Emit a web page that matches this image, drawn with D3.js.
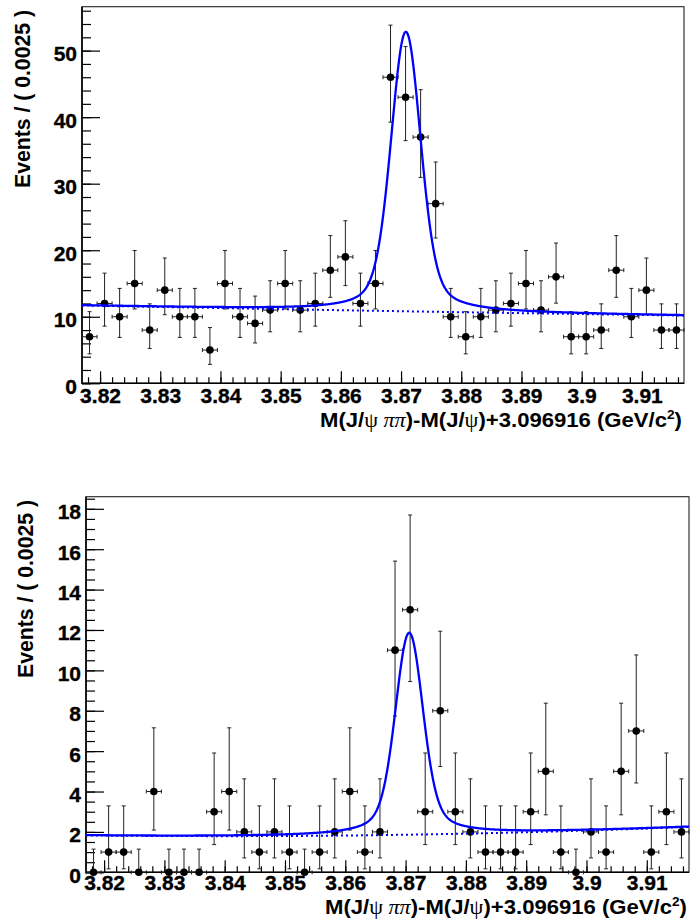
<!DOCTYPE html>
<html>
<head>
<meta charset="utf-8">
<script src="https://cdn.jsdelivr.net/npm/d3@7"></script>
<style>
  html, body { margin: 0; padding: 0; background: #fff; }
  svg { display: block; }
  text { font-family: "Liberation Sans", Arial, Helvetica, sans-serif; font-weight: bold; fill: #000; }
</style>
</head>
<body>
<svg id="chart" width="690" height="920"></svg>
<script>
// ---------------- data ----------------
const xRange = [3.817, 3.917];          // histogram range, GeV/c^2
const binWidth = 0.0025;                // bin width
const xTickLabels = [3.82, 3.83, 3.84, 3.85, 3.86, 3.87, 3.88, 3.89, 3.9, 3.91];

const countsTop = [7, 12, 10, 15, 8, 14, 10, 10, 5, 15, 10, 9, 11, 15, 11, 12, 17, 19, 12, 15,
                   46, 43, 37, 27, 10, 7, 10, 11, 12, 15, 11, 16, 7, 7, 8, 17, 10, 14, 8, 8];
const countsBottom = [0, 1, 1, 0, 4, 0, 0, 0, 3, 4, 2, 1, 2, 1, 0, 1, 2, 4, 1, 2,
                      11, 13, 3, 8, 3, 2, 1, 1, 1, 3, 5, 1, 0, 2, 1, 5, 7, 1, 3, 2];

const yTicksTop = [0, 10, 20, 30, 40, 50];
const yTicksBottom = [0, 2, 4, 6, 8, 10, 12, 14, 16, 18];
const yMaxTop = 56.6;
const yMaxBottom = 18.6;

// fit parameters: signal [amplitude, mean, core sigma, tail fraction, tail half-width]
const signalTop = [42.0, 3.8708, 0.0024, 0.30, 0.0035];
const signalBottom = [10.0, 3.8706, 0.0022, 0.30, 0.0035];
// background polynomial in t = (x - 3.867) / 0.05 : c0 + c1 t + c2 t^2
const bkgTop = [10.88, -0.76, 0.06];
const bkgBottom = [1.847, 0.2095, 0.194];

const yTitle = "Events / ( 0.0025 )";

// ---------------- layout ----------------
const panels = [
  { counts: countsTop, yTicks: yTicksTop, yMax: yMaxTop, yMinor: 2, sig: signalTop, bkg: bkgTop,
    l: 82, r: 684, t: 6.7, b: 383.3, xPad: 5, yTitleX: 29.5, yTitleY: 188,
    xTitleX: 320, xTitleY: 427 },
  { counts: countsBottom, yTicks: yTicksBottom, yMax: yMaxBottom, yMinor: 0.5, sig: signalBottom, bkg: bkgBottom,
    l: 86, r: 689, t: 496.7, b: 872.3, xPad: 3, yTitleX: 33, yTitleY: 678,
    xTitleX: 325, xTitleY: 914 }
];

const svg = d3.select("#chart");

function poissonInterval(n) {
  if (n === 0) return [0, 1.148];
  const lo = n * Math.pow(1 - 1 / (9 * n) - 1 / (3 * Math.sqrt(n)), 3);
  const m = n + 1;
  const hi = m * Math.pow(1 - 1 / (9 * m) + 1 / (3 * Math.sqrt(m)), 3);
  return [lo, hi];
}
function bkgFn(p, x) { const t = (x - 3.867) / 0.05; return p[0] + p[1] * t + p[2] * t * t; }
function sigFn(p, x) {
  const d = x - p[1];
  return p[0] * ((1 - p[3]) * Math.exp(-d * d / (2 * p[2] * p[2])) + p[3] / (1 + (d / p[4]) * (d / p[4])));
}

panels.forEach((P, pi) => {
  const x = d3.scaleLinear().domain(xRange).range([P.l, P.r]);
  const y = d3.scaleLinear().domain([0, P.yMax]).range([P.b, P.t]);
  const g = svg.append("g");

  const clipId = "clip" + pi;
  g.append("clipPath").attr("id", clipId).append("rect")
    .attr("x", P.l).attr("y", P.t).attr("width", P.r - P.l).attr("height", P.b - P.t);

  // minor ticks
  const xMinor = d3.range(0, 51).map(i => +(3.818 + i * 0.002).toFixed(4)).filter(v => v < xRange[1]);
  const yMinor = d3.range(0, Math.floor(P.yMax / P.yMinor) + 1).map(i => i * P.yMinor);

  const xMinAxis = d3.axisBottom(x).tickValues(xMinor).tickSize(-6).tickFormat("");
  g.append("g").attr("transform", `translate(0,${P.b})`).call(xMinAxis).call(s => s.select(".domain").remove());
  const yMinAxis = d3.axisLeft(y).tickValues(yMinor).tickSize(-9).tickFormat("");
  g.append("g").attr("transform", `translate(${P.l},0)`).call(yMinAxis).call(s => s.select(".domain").remove());

  // major ticks + labels
  const xAxis = d3.axisBottom(x).tickValues(xTickLabels).tickSize(-12).tickPadding(P.xPad)
    .tickFormat(d => String(d));
  const gx = g.append("g").attr("transform", `translate(0,${P.b})`).call(xAxis);
  gx.select(".domain").remove();
  gx.selectAll("text").attr("font-size", 21).attr("font-family", null)
    .attr("stroke", "#000").attr("stroke-width", 0.35);

  const yAxis = d3.axisLeft(y).tickValues(P.yTicks).tickSize(-18).tickPadding(5).tickFormat(d => String(d));
  const gy = g.append("g").attr("transform", `translate(${P.l},0)`).call(yAxis);
  gy.select(".domain").remove();
  gy.selectAll("text").attr("font-size", 21).attr("font-family", null).attr("dy", "0.47em")
    .attr("stroke", "#000").attr("stroke-width", 0.35);

  svg.selectAll(".tick line").attr("stroke", "#000").attr("stroke-width", 1.2);

  // frame
  g.append("rect").attr("x", P.l).attr("y", P.t).attr("width", P.r - P.l).attr("height", P.b - P.t)
    .attr("fill", "none").attr("stroke", "#222").attr("stroke-width", 1.1);
  g.append("path").attr("d", `M${P.l},${P.t}V${P.b}H${P.r}`)
    .attr("fill", "none").attr("stroke", "#000").attr("stroke-width", 1.6);

  // data points
  const pts = P.counts.map((n, i) => {
    const c = xRange[0] + (i + 0.5) * binWidth;
    const [lo, hi] = poissonInterval(n);
    return { c, n, lo, hi };
  });
  const eg = g.append("g").attr("stroke", "#222").attr("stroke-width", 1).attr("fill", "none");
  const cap = 2;
  pts.forEach(p => {
    const cx = x(p.c), cy = y(p.n);
    const y1 = y(p.lo), y2 = y(p.hi);
    const xl = x(p.c - binWidth / 2), xr = x(p.c + binWidth / 2);
    eg.append("line").attr("x1", cx).attr("x2", cx).attr("y1", y1).attr("y2", y2);
    eg.append("line").attr("x1", cx - cap).attr("x2", cx + cap).attr("y1", y1).attr("y2", y1);
    eg.append("line").attr("x1", cx - cap).attr("x2", cx + cap).attr("y1", y2).attr("y2", y2);
    eg.append("line").attr("x1", xl).attr("x2", xr).attr("y1", cy).attr("y2", cy);
    eg.append("line").attr("x1", xl).attr("x2", xl).attr("y1", cy - cap).attr("y2", cy + cap);
    eg.append("line").attr("x1", xr).attr("x2", xr).attr("y1", cy - cap).attr("y2", cy + cap);
  });
  g.append("g").selectAll("circle").data(pts).join("circle")
    .attr("cx", d => x(d.c)).attr("cy", d => y(d.n)).attr("r", 3.8).attr("fill", "#000");

  // fit curves
  const xs = d3.range(0, 1201).map(i => xRange[0] + (xRange[1] - xRange[0]) * i / 1200);
  const line = d3.line().x(d => x(d[0])).y(d => y(d[1]));
  const cg = g.append("g").attr("clip-path", `url(#${clipId})`);
  cg.append("path").datum(xs.map(v => [v, bkgFn(P.bkg, v)])).attr("d", line)
    .attr("fill", "none").attr("stroke", "#0000ff").attr("stroke-width", 2).attr("stroke-dasharray", "2,3");
  cg.append("path").datum(xs.map(v => [v, bkgFn(P.bkg, v) + sigFn(P.sig, v)])).attr("d", line)
    .attr("fill", "none").attr("stroke", "#0000ff").attr("stroke-width", 2.3);

  // axis titles
  svg.append("text").attr("transform", `translate(${P.yTitleX},${P.yTitleY}) rotate(-90)`)
    .attr("font-size", 22).attr("textLength", 178).attr("lengthAdjust", "spacingAndGlyphs")
    .text(yTitle);

  const xt = svg.append("text").attr("x", P.xTitleX).attr("y", P.xTitleY).attr("font-size", 21)
    .attr("textLength", 362).attr("lengthAdjust", "spacingAndGlyphs");
  xt.append("tspan").text("M(J/");
  xt.append("tspan").attr("font-family", "'Liberation Serif', serif").attr("font-weight", "normal").text("ψ ");
  xt.append("tspan").attr("font-family", "'Liberation Serif', serif").attr("font-weight", "normal").attr("font-style", "italic").text("ππ");
  xt.append("tspan").text(")-M(J/");
  xt.append("tspan").attr("font-family", "'Liberation Serif', serif").attr("font-weight", "normal").text("ψ");
  xt.append("tspan").text(")+3.096916 (GeV/c");
  xt.append("tspan").attr("font-size", 13).attr("dy", -8).text("2");
  xt.append("tspan").attr("dy", 8).text(")");
});
</script>
</body>
</html>
